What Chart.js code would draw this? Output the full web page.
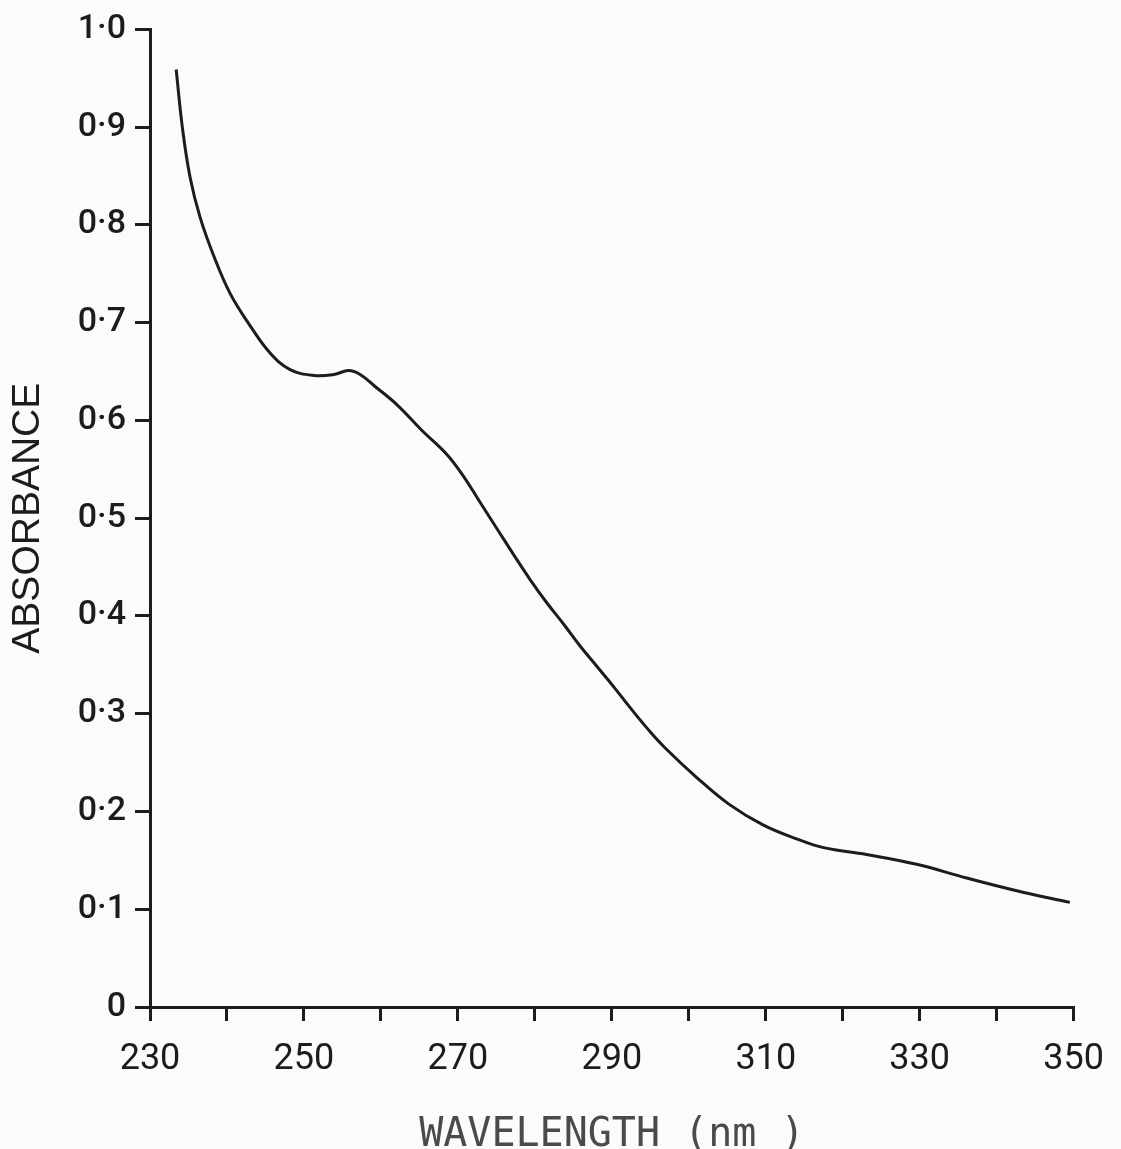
<!DOCTYPE html>
<html>
<head>
<meta charset="utf-8">
<title>Absorbance spectrum</title>
<script src="https://cdn.jsdelivr.net/npm/chart.js@4.4.1/dist/chart.umd.min.js"></script>
<style>
  html, body { margin: 0; padding: 0; background: #fbfbfb; }
  #wrap { width: 1121px; height: 1149px; }
</style>
</head>
<body>
<div id="wrap"><canvas id="spectrum" width="1121" height="1149"></canvas></div>
<script>

// values
const wavelengths = [233.4, 234.2, 235.2, 236.5, 238.3, 240.4, 243.0, 245.6, 248.2, 251.3,
    253.9, 255.8, 257.3, 259.2, 262.1, 265.3, 268.6, 270.8, 272.9, 275.1,
    277.3, 279.4, 281.6, 283.8, 285.8, 288.1, 290.3, 292.3, 294.6, 296.8,
    301.0, 305.3, 309.7, 314.0, 317.5, 323.1, 329.6, 336.1, 342.6, 349.5];
const absorbance = [0.959, 0.900, 0.849, 0.808, 0.768, 0.730, 0.697, 0.669, 0.652, 0.646,
    0.647, 0.651, 0.647, 0.635, 0.616, 0.590, 0.565, 0.542, 0.516, 0.489,
    0.462, 0.437, 0.413, 0.391, 0.370, 0.348, 0.327, 0.307, 0.285, 0.266,
    0.235, 0.207, 0.186, 0.172, 0.163, 0.156, 0.146, 0.132, 0.119, 0.107];

const xLabels = [230, 250, 270, 290, 310, 330, 350];
const yLabels = [0, 0.1, 0.2, 0.3, 0.4, 0.5, 0.6, 0.7, 0.8, 0.9, 1.0];

const xTitle = "WAVELENGTH (nm )";
const yTitle = "ABSORBANCE";

const ink = "#1c1c1c";
const tickFont = "'Roboto', 'Liberation Sans', sans-serif";

const points = wavelengths.map((w, i) => ({ x: w, y: absorbance[i] }));

const ctx = document.getElementById("spectrum");

new Chart(ctx, {
    type: "line",
    data: {
        datasets: [{
            data: points,
            borderColor: ink,
            borderWidth: 3,
            pointRadius: 0,
            fill: false,
            tension: 0.4
        }]
    },
    options: {
        responsive: false,
        animation: false,
        layout: {
            padding: { top: 25, right: 44, left: 0, bottom: 0 }
        },
        plugins: {
            legend: { display: false },
            tooltip: { enabled: false }
        },
        scales: {
            x: {
                type: "linear",
                min: 230,
                max: 350,
                afterFit: (scale) => { scale.height = 142; },
                border: { display: true, color: ink, width: 3 },
                grid: {
                    drawOnChartArea: false,
                    drawTicks: true,
                    tickLength: 14,
                    color: ink,
                    lineWidth: 3
                },
                ticks: {
                    stepSize: 10,
                    autoSkip: false,
                    maxRotation: 0,
                    padding: 17,
                    color: ink,
                    font: { family: tickFont, size: 36 },
                    callback: (v) => xLabels.includes(v) ? String(v) : ""
                },
                title: {
                    display: true,
                    text: xTitle,
                    color: "#4a4a4a",
                    font: { family: "'DejaVu Sans Mono', monospace", size: 40, lineHeight: 1 },
                    padding: { top: 0, bottom: -7 }
                }
            },
            y: {
                min: 0,
                max: 1,
                afterFit: (scale) => { scale.width = 150; },
                border: { display: true, color: ink, width: 3 },
                grid: {
                    drawOnChartArea: false,
                    drawTicks: true,
                    tickLength: 15,
                    color: ink,
                    lineWidth: 3
                },
                ticks: {
                    stepSize: 0.1,
                    autoSkip: false,
                    padding: 9,
                    color: ink,
                    font: { family: tickFont, size: 34, weight: "500" },
                    callback: (v) => {
                        const r = Math.round(v * 10) / 10;
                        if (!yLabels.includes(r)) return "";
                        return r === 0 ? "0" : r.toFixed(1).replace(".", "·");
                    }
                },
                title: {
                    display: true,
                    text: yTitle,
                    color: ink,
                    font: { family: "'Liberation Sans', Arial, sans-serif", size: 39 },
                    padding: { top: 5, bottom: 0 }
                }
            }
        }
    }
});

</script>
</body>
</html>
